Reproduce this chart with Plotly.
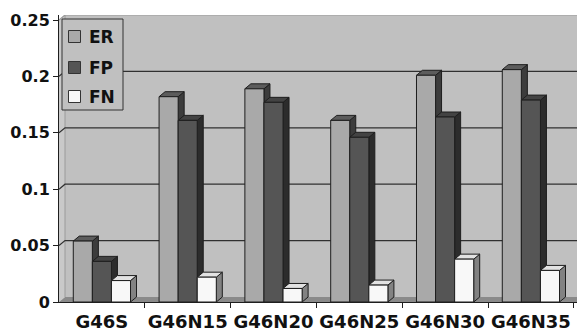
import plotly.graph_objects as go

# ---- data -------------------------------------------------------------
categories = ["G46S", "G46N15", "G46N20", "G46N25", "G46N30", "G46N35"]
series_names = ["ER", "FP", "FN"]
er_values = [0.054, 0.182, 0.189, 0.161, 0.201, 0.206]
fp_values = [0.036, 0.161, 0.177, 0.146, 0.164, 0.179]
fn_values = [0.019, 0.022, 0.012, 0.015, 0.038, 0.028]
y_tick_values = [0, 0.05, 0.1, 0.15, 0.2, 0.25]
y_tick_labels = ["0", "0.05", "0.1", "0.15", "0.2", "0.25"]

# ---- styling ----------------------------------------------------------
front_colors = ["#a9a9a9", "#555555", "#f8f8f8"]
top_colors = ["#5c5c5c", "#434343", "#e2e2e2"]
side_colors = ["#3c3c3c", "#2c2c2c", "#828282"]
edge = "#1e1e1e"
FONT = "DejaVu Sans"

W, H = 577, 335
M_L, M_R, M_T, M_B = 59, 0, 15, 33
plot_w = W - M_L - M_R
plot_h = H - M_T - M_B

cat_px = 85.8                      # pixel width of one category slot
x_min = -0.5
x_max = x_min + plot_w / cat_px
y_px_per_unit = 1128.0
y_max = plot_h / y_px_per_unit

# pseudo-3D depth, converted from pixels to data units
dx = 6 / cat_px
dy = 5 / y_px_per_unit

bar_w = 0.2223
offsets = [-1.5 * bar_w, -0.5 * bar_w, 0.5 * bar_w]
all_values = [er_values, fp_values, fn_values]

fig = go.Figure()
for name, vals, off, col in zip(series_names, all_values, offsets, front_colors):
    fig.add_trace(go.Bar(
        name=name, x=list(range(len(categories))), y=vals,
        width=bar_w, offset=off,
        marker=dict(color=col, line=dict(color=edge, width=1)),
        showlegend=False,
    ))

shapes = []
wall_top = 0.25 + dy
# left side wall
shapes.append(dict(type="path", xref="x", yref="y", layer="below",
                   path=f"M{x_min},0 L{x_min+dx},{dy} L{x_min+dx},{wall_top} L{x_min},{wall_top-dy} Z",
                   fillcolor="#c9c9c9", line=dict(width=0)))
# back wall
shapes.append(dict(type="rect", xref="x", yref="y", layer="below",
                   x0=x_min + dx, x1=x_max + 1, y0=dy, y1=wall_top,
                   fillcolor="#c0c0c0", line=dict(width=0)))
# floor
shapes.append(dict(type="path", xref="x", yref="y", layer="below",
                   path=f"M{x_min},0 L{x_max+1},0 L{x_max+1+dx},{dy} L{x_min+dx},{dy} Z",
                   fillcolor="#8a8a8a", line=dict(width=0)))
# wall corner edge
shapes.append(dict(type="line", xref="x", yref="y", layer="below",
                   x0=x_min + dx, x1=x_min + dx, y0=dy, y1=wall_top,
                   line=dict(color="#9a9a9a", width=1)))
# gridlines on side wall and back wall
for v in y_tick_values[1:]:
    col = "#9a9a9a" if v == y_tick_values[-1] else "#303030"
    shapes.append(dict(type="path", xref="x", yref="y", layer="below",
                       path=f"M{x_min},{v} L{x_min+dx},{v+dy} L{x_max+1},{v+dy}",
                       line=dict(color=col, width=1.2)))

# top and side faces of each bar
for vals, off, tcol, scol in zip(all_values, offsets, top_colors, side_colors):
    for i, v in enumerate(vals):
        x0 = i + off
        x1 = x0 + bar_w
        shapes.append(dict(type="path", xref="x", yref="y", layer="between",
                           path=f"M{x1},0 L{x1+dx},{dy} L{x1+dx},{v+dy} L{x1},{v} Z",
                           fillcolor=scol, line=dict(color=edge, width=1)))
        shapes.append(dict(type="path", xref="x", yref="y", layer="between",
                           path=f"M{x0},{v} L{x1},{v} L{x1+dx},{v+dy} L{x0+dx},{v+dy} Z",
                           fillcolor=tcol, line=dict(color=edge, width=1)))

# legend box drawn in paper coordinates
def px_x(p):
    return (p - M_L) / plot_w

def px_y(p):
    return (H - M_B - p) / plot_h

shapes.append(dict(type="rect", xref="paper", yref="paper", layer="above",
                   x0=px_x(62), x1=px_x(123), y0=px_y(110), y1=px_y(19),
                   fillcolor="#c0c0c0", line=dict(color="#333333", width=1)))
annotations = []
item_centers = [36.5, 67.5, 96.5]
for name, col, cy in zip(series_names, front_colors, item_centers):
    shapes.append(dict(type="rect", xref="paper", yref="paper", layer="above",
                       x0=px_x(68.5), x1=px_x(80.5), y0=px_y(cy + 6), y1=px_y(cy - 6),
                       fillcolor=col, line=dict(color="#333333", width=1)))
    annotations.append(dict(xref="paper", yref="paper", x=px_x(87), y=px_y(cy),
                            xanchor="left", yanchor="middle", showarrow=False,
                            text=name,
                            font=dict(family=FONT, size=17, color="#111111", weight="bold")))

fig.update_layout(
    width=W, height=H,
    margin=dict(l=M_L, r=M_R, t=M_T, b=M_B, pad=0),
    paper_bgcolor="white", plot_bgcolor="white",
    barmode="overlay",
    shapes=shapes, annotations=annotations,
    showlegend=False,
    xaxis=dict(range=[x_min, x_max], tickvals=list(range(len(categories))),
               ticktext=categories, ticks="", showgrid=False, zeroline=False,
               showline=True, linecolor=edge, linewidth=1,
               automargin=False, ticklabelstandoff=3,
               tickfont=dict(family=FONT, size=18, color="#111111", weight="bold"),
               minor=dict(tickvals=[k + 0.5 for k in range(len(categories))],
                          ticks="outside", ticklen=5, tickcolor=edge, showgrid=False),
               fixedrange=True),
    yaxis=dict(range=[0, y_max], tickvals=y_tick_values, ticktext=y_tick_labels,
               ticks="outside", ticklen=5, tickcolor=edge, showgrid=False,
               zeroline=False, showline=True, linecolor=edge, linewidth=1,
               automargin=False,
               tickfont=dict(family=FONT, size=16, color="#111111", weight="bold"),
               fixedrange=True),
)

fig.write_html("out.html")
